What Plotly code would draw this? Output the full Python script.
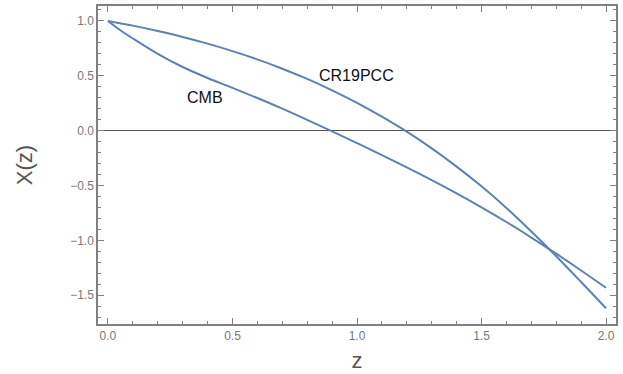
import plotly.graph_objects as go

z_cmb = [0, 0.05, 0.1, 0.2, 0.3, 0.4, 0.5, 0.6, 0.7, 0.8, 0.9, 1.0, 1.1, 1.2, 1.3, 1.4, 1.5, 1.6, 1.7, 1.8, 1.9, 2.0]
x_cmb = [1.0, 0.915, 0.84, 0.70, 0.58, 0.48, 0.39, 0.297, 0.2, 0.098, -0.007, -0.114, -0.223, -0.335, -0.451, -0.572, -0.699, -0.833, -0.975, -1.122, -1.275, -1.433]

z_cr = [0, 0.1, 0.2, 0.3, 0.4, 0.5, 0.6, 0.7, 0.8, 0.9, 1.0, 1.1, 1.2, 1.3, 1.4, 1.5, 1.6, 1.7, 1.8, 1.9, 2.0]
x_cr = [1.0, 0.957, 0.908, 0.854, 0.793, 0.725, 0.649, 0.564, 0.471, 0.367, 0.253, 0.127, -0.010, -0.162, -0.328, -0.508, -0.705, -0.92, -1.145, -1.38, -1.62]

labels = ["CMB", "CR19PCC"]
label_pos = [(0.39, 0.30), (0.996, 0.50)]

line_color = "#5E81B5"
fig = go.Figure()
fig.add_trace(go.Scatter(x=z_cmb, y=x_cmb, mode="lines", line=dict(color=line_color, width=2, shape="spline"), showlegend=False))
fig.add_trace(go.Scatter(x=z_cr, y=x_cr, mode="lines", line=dict(color=line_color, width=2, shape="spline"), showlegend=False))

for t, (ax, ay) in zip(labels, label_pos):
    fig.add_annotation(x=ax, y=ay, text=t, showarrow=False,
                       font=dict(family="Liberation Sans, Arial", size=16, color="#111"))

frame = "#808080"
tickfont = dict(family="Liberation Sans, Arial", size=12, color="#777")
common = dict(showline=True, linecolor=frame, linewidth=1.5, mirror="ticks",
              ticks="inside", ticklen=6, tickcolor=frame, tickwidth=1,
              showgrid=False, tickfont=tickfont, dtick=0.5, tickformat=".1f",
              minor=dict(ticks="inside", ticklen=3, dtick=0.1, tickcolor=frame, showgrid=False))

fig.update_xaxes(range=[-0.04, 2.04], zeroline=False, tick0=0,
                 title=dict(text="z", font=dict(family="Liberation Sans, Arial", size=22, color="#555"), standoff=10),
                 **common)
fig.update_yaxes(range=[-1.763, 1.136], zeroline=True, zerolinecolor="#555", zerolinewidth=1.2, tick0=0,
                 title=dict(text="X(z)", font=dict(family="Liberation Sans, Arial", size=22, color="#555"), standoff=31),
                 **common)

fig.update_layout(width=623, height=374, margin=dict(l=98, r=7, t=4, b=50),
                  plot_bgcolor="white", paper_bgcolor="white")

fig.write_html("out.html")
